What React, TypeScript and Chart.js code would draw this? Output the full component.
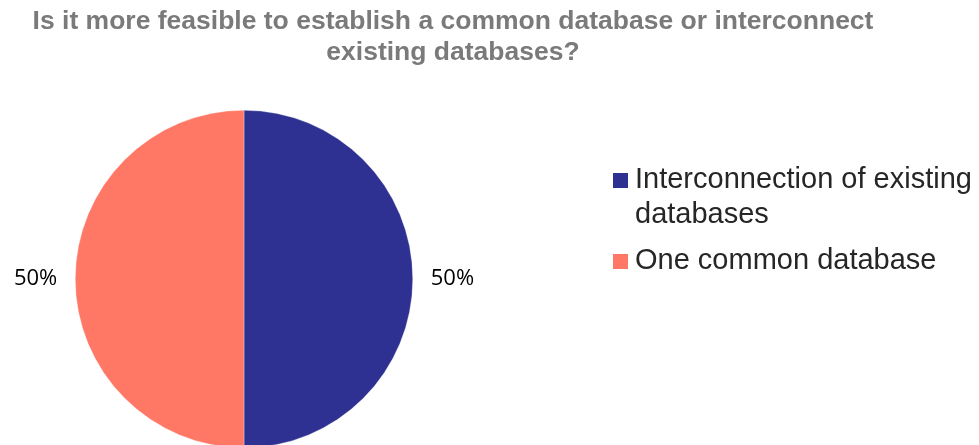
import React, { useEffect, useRef } from "react";
import { Chart, registerables } from "chart.js";

Chart.register(...registerables);

const TITLE_LINES = [
  "Is it more feasible to establish a common database or interconnect",
  "existing databases?",
];
const CATEGORIES = ["Interconnection of existing databases", "One common database"];
const LEGEND_LINES = [["Interconnection of existing", "databases"], ["One common database"]];
const VALUES = [50, 50];
const COLORS = ["#2E3192", "#FF7866"];

const overlayPlugin = {
  id: "overlay",
  afterDraw(chart: any) {
    const ctx = chart.ctx as CanvasRenderingContext2D;
    ctx.save();
    // Title
    ctx.font = "bold 26.5px 'Liberation Sans', Arial, sans-serif";
    ctx.fillStyle = "#7A7A7A";
    ctx.textAlign = "center";
    ctx.textBaseline = "alphabetic";
    ctx.fillText(TITLE_LINES[0], 453, 29);
    ctx.fillText(TITLE_LINES[1], 453, 60);

    // Data labels
    const total = VALUES.reduce((a, b) => a + b, 0);
    const meta = chart.getDatasetMeta(0);
    ctx.font = "22px 'Open Sans', 'Noto Sans', sans-serif";
    ctx.fillStyle = "#000000";
    ctx.textBaseline = "middle";
    meta.data.forEach((arc: any, i: number) => {
      const p = arc.getProps(["x", "y", "startAngle", "endAngle", "outerRadius"], true);
      const mid = (p.startAngle + p.endAngle) / 2;
      const r = p.outerRadius + 18;
      const lx = p.x + Math.cos(mid) * r;
      const ly = p.y + Math.sin(mid) * r;
      ctx.textAlign = Math.cos(mid) >= 0 ? "left" : "right";
      ctx.fillText(Math.round((VALUES[i] / total) * 100) + "%", lx, ly);
    });

    // Legend
    ctx.font = "29px 'Liberation Sans', Arial, sans-serif";
    ctx.textAlign = "left";
    ctx.textBaseline = "alphabetic";
    const itemTops = [173, 254];
    LEGEND_LINES.forEach((lines, i) => {
      ctx.fillStyle = COLORS[i];
      ctx.fillRect(613, itemTops[i], 15, 15);
      ctx.fillStyle = "#262626";
      lines.forEach((ln, j) => {
        ctx.fillText(ln, 635, itemTops[i] + 15 + j * 35);
      });
    });
    ctx.restore();
  },
};

export default function App() {
  const ref = useRef<HTMLCanvasElement | null>(null);
  useEffect(() => {
    if (!ref.current) return;
    const chart = new Chart(ref.current, {
      type: "pie",
      data: {
        labels: CATEGORIES,
        datasets: [
          {
            data: VALUES,
            backgroundColor: COLORS,
            borderColor: "rgba(255,255,255,0.6)",
            borderWidth: 0.5,
          },
        ],
      },
      options: {
        responsive: false,
        maintainAspectRatio: false,
        animation: false,
        devicePixelRatio: 1,
        layout: { padding: { left: 75, right: 566, top: 110, bottom: 12 } },
        plugins: {
          legend: { display: false },
          title: { display: false },
          tooltip: { enabled: false },
        },
      },
      plugins: [overlayPlugin],
    });
    return () => chart.destroy();
  }, []);
  return (
    <div
      style={{
        position: "absolute",
        left: 0,
        top: 0,
        width: 979,
        height: 445,
        overflow: "hidden",
        background: "#ffffff",
      }}
    >
      <canvas ref={ref} width={979} height={460} style={{ display: "block" }} />
    </div>
  );
}
